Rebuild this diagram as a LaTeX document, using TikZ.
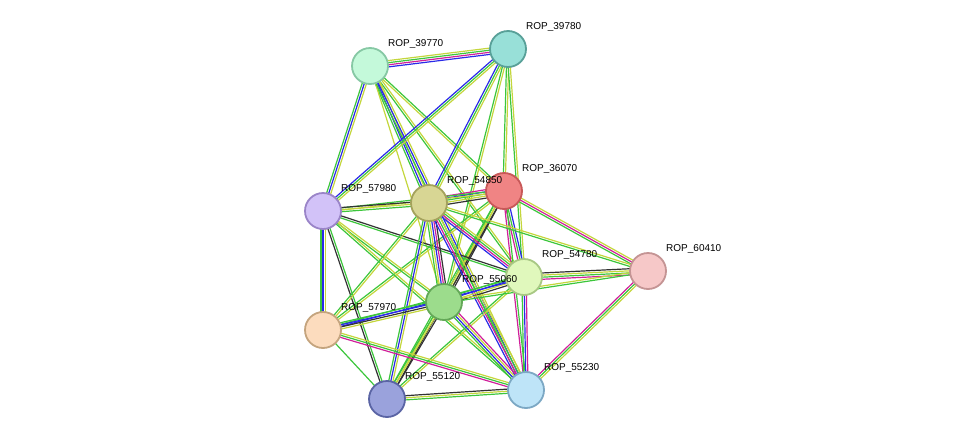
\documentclass[tikz,border=0pt]{standalone}
\usepackage{fontspec}
\setmainfont{Liberation Sans}
\usetikzlibrary{calc, backgrounds}
\definecolor{ctext}{HTML}{C4D63C}
\definecolor{cexp}{HTML}{D0209A}
\definecolor{cdb}{HTML}{2A2AE8}
\definecolor{cco}{HTML}{333333}
\definecolor{cnb}{HTML}{3CC63C}
\newcommand{\link}[4]{% from, to, n, colours
  \foreach \c [count=\i] in {#4} {
    \pgfmathsetmacro{\o}{(\i-(#3+1)/2)*2.1}
    \draw[\c, line width=1.2pt] ($(#1.center)!\o pt!90:(#2.center)$) -- ($(#2.center)!\o pt!-90:(#1.center)$);
  }}
\begin{document}
\begin{tikzpicture}[x=1pt, y=-1pt, prot/.style={circle, draw, line width=1.8pt, minimum size=36pt, inner sep=0pt},
  lab/.style={anchor=south west, font=\fontsize{10}{12}\selectfont, inner sep=1pt}]
\useasboundingbox (0,0) rectangle (976,445);
% proteins
\foreach \n/\x/\y/\f/\d in {39770/370/66/C4F9DA/86C8A4, 39780/508/49/98E0D8/58A098, 36070/504/191/F08484/C85858,
  57980/323/211/D2C2F8/9A84C8, 54850/429/203/D8D694/A4A25C, 60410/648/271/F6C8C8/C49494,
  54780/524/277/E0F8BC/A8C884, 55060/444/302/9CDC8C/64A858, 57970/323/330/FCDCBE/C4A47E,
  55120/387/399/9AA2DC/5A64A4, 55230/526/390/BEE4F8/7CA8C4} {
  \definecolor{fill\n}{HTML}{\f}\definecolor{draw\n}{HTML}{\d}
  \node[prot, fill=fill\n, draw=draw\n] (p\n) at (\x,\y) {};
  \node[lab] at (\x+17,\y-16) {ROP\_\n};
}
% interactions
\begin{scope}[on background layer]
\link{p39770}{p39780}{4}{cdb,cexp,cnb,ctext}
\link{p39770}{p57980}{3}{cnb,cdb,ctext}
\link{p39770}{p54850}{3}{cnb,cdb,ctext}
\link{p39770}{p36070}{2}{ctext,cnb}
\link{p39770}{p54780}{2}{cnb,ctext}
\link{p39770}{p55060}{1}{ctext}
\link{p39770}{p55230}{3}{cnb,cdb,ctext}
\link{p39780}{p57980}{3}{cdb,cnb,ctext}
\link{p39780}{p54850}{3}{cdb,cnb,ctext}
\link{p39780}{p36070}{2}{cnb,ctext}
\link{p39780}{p54780}{2}{cnb,ctext}
\link{p39780}{p55060}{2}{cnb,ctext}
\link{p36070}{p54850}{5}{cexp,cdb,cnb,ctext,cco}
\link{p36070}{p57980}{2}{cnb,ctext}
\link{p36070}{p60410}{3}{cnb,cexp,ctext}
\link{p36070}{p54780}{3}{cexp,cnb,cdb}
\link{p36070}{p55060}{3}{cnb,ctext,cco}
\link{p36070}{p57970}{2}{cnb,ctext}
\link{p36070}{p55120}{3}{cnb,ctext,cco}
\link{p36070}{p55230}{2}{cexp,cnb}
\link{p57980}{p54850}{3}{cnb,ctext,cco}
\link{p57980}{p54780}{2}{cnb,cco}
\link{p57980}{p55060}{2}{cnb,ctext}
\link{p57980}{p57970}{3}{cnb,cdb,ctext}
\link{p57980}{p55120}{2}{cco,cnb}
\link{p57980}{p55230}{2}{cnb,ctext}
\link{p54850}{p54780}{4}{cdb,cexp,cnb,ctext}
\link{p54850}{p55060}{5}{cnb,ctext,cdb,cexp,cco}
\link{p54850}{p57970}{2}{cnb,ctext}
\link{p54850}{p55120}{3}{cnb,cdb,ctext}
\link{p54850}{p55230}{4}{cdb,cexp,cnb,ctext}
\link{p54850}{p60410}{2}{cnb,ctext}
\link{p54780}{p60410}{4}{cexp,cnb,ctext,cco}
\link{p54780}{p55060}{4}{cnb,cdb,ctext,cco}
\link{p54780}{p57970}{2}{cnb,cdb}
\link{p54780}{p55120}{2}{cnb,ctext}
\link{p54780}{p55230}{3}{cnb,cdb,cexp}
\link{p55060}{p57970}{4}{cnb,cdb,cco,ctext}
\link{p55060}{p55120}{3}{cnb,ctext,cco}
\link{p55060}{p55230}{4}{cnb,cdb,ctext,cexp}
\link{p55060}{p60410}{2}{cnb,ctext}
\link{p57970}{p55120}{1}{cnb}
\link{p57970}{p55230}{3}{cexp,cnb,ctext}
\link{p55120}{p55230}{3}{cnb,ctext,cco}
\link{p60410}{p55230}{3}{cexp,cnb,ctext}
\end{scope}
\end{tikzpicture}
\end{document}
